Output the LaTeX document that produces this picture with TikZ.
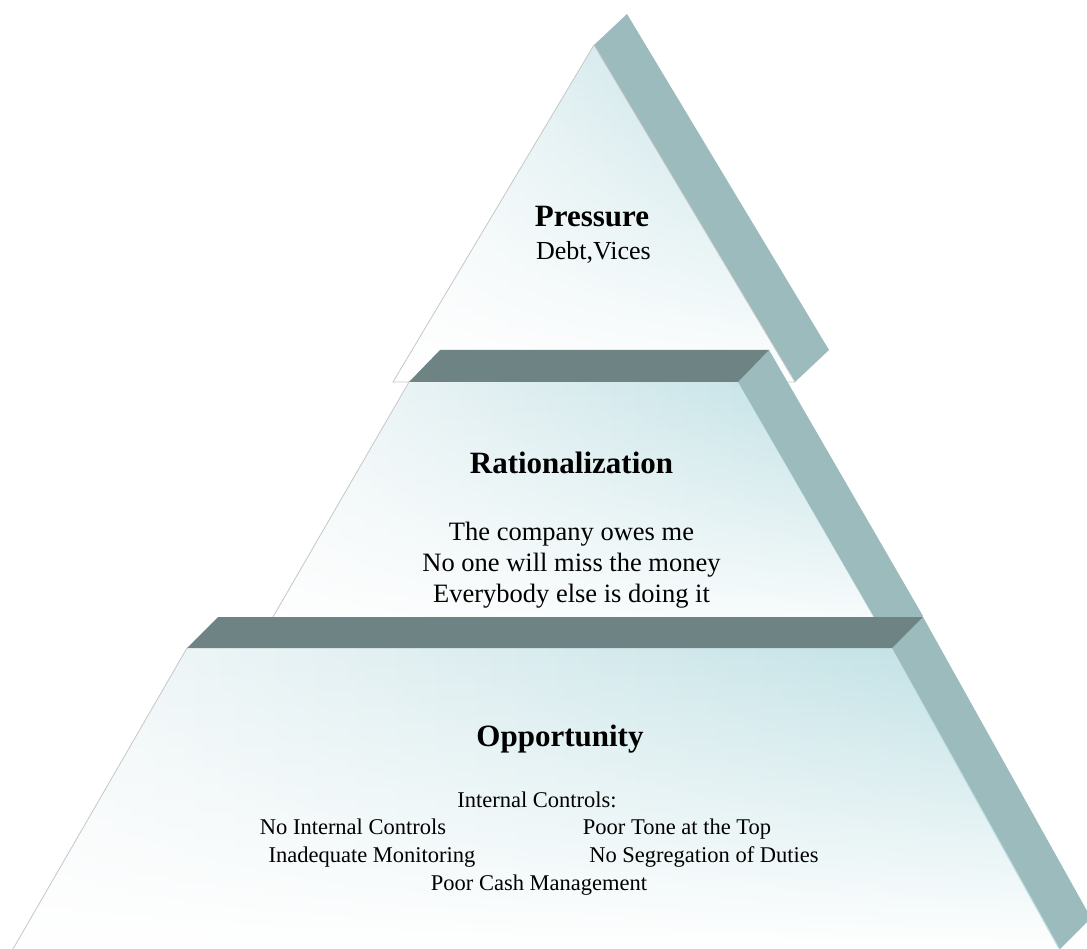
\documentclass[tikz,border=0pt]{standalone}
\usepackage{fontspec}
\setmainfont{Liberation Serif}
\usetikzlibrary{fadings,calc}
\definecolor{bandc}{HTML}{9CBBBD}
\definecolor{shelfc}{HTML}{6E8384}
\definecolor{cyanl}{HTML}{BCDFE3}
\definecolor{whitel}{HTML}{F6F9FA}
\definecolor{edgec}{HTML}{C6C6C6}
\tikzfading[name=fadedown, top color=transparent!100, middle color=transparent!75, bottom color=transparent!0]
\tikzset{
  frontface/.style={left color=whitel, right color=cyanl, draw=none},
  whiten/.style={fill=white, path fading=fadedown},
  outline/.style={draw=edgec, line width=0.8pt, line join=round},
  sideface/.style={fill=bandc},
  shelfface/.style={fill=shelfc},
  headtxt/.style={font=\bfseries\fontsize{31}{36}\selectfont, anchor=base, inner sep=0pt},
  bodytxt/.style={font=\fontsize{26.5}{31}\selectfont, anchor=base, inner sep=0pt},
  smalltxt/.style={font=\fontsize{26}{30}\selectfont, anchor=base, inner sep=0pt},
  opptxt/.style={font=\fontsize{22.5}{27}\selectfont, anchor=base, inner sep=0pt}
}
\begin{document}
\begin{tikzpicture}[x=1pt,y=-1pt]
\useasboundingbox (0,0) rectangle (1087,949);
\clip (0,0) rectangle (1087,949);
% ---- top level (Pressure)
\coordinate (pA) at (594,45);
\coordinate (pL) at (393,382);
\coordinate (pR) at (795,382);
\path[sideface] (pA) -- ++(33,-31) -- ($(pR)+(34,-32)$) -- (pR) -- cycle;
\path[frontface] (pA) -- (pL) -- (pR) -- cycle;
\path[whiten] (pA) -- (pL) -- (pR) -- cycle;
\path[outline] (pR) -- (pA) -- (pL) -- (pR);
% ---- middle level (Rationalization)
\coordinate (mTL) at (409,382);
\coordinate (mTR) at (738,382);
\coordinate (mBL) at (255,648);
\coordinate (mBR) at (892,648);
\path[frontface] (mTL) -- (mTR) -- (mBR) -- (mBL) -- cycle;
\path[whiten] (mTL) -- (mTR) -- (mBR) -- (mBL) -- cycle;
\path[outline] (mTL) -- (mBL);
\path[sideface] (mTR) -- ++(31,-32) -- ($(mBR)+(31,-32)$) -- (mBR) -- cycle;
\path[shelfface] (mTL) -- ++(31,-32) -- ($(mTR)+(31,-32)$) -- (mTR) -- cycle;
% ---- lower level (Opportunity)
\coordinate (lTL) at (187,648);
\coordinate (lTR) at (892,648);
\coordinate (lBL) at (13,949);
\coordinate (lBR) at (1060,949);
\path[frontface] (lTL) -- (lTR) -- (lBR) -- (lBL) -- cycle;
\path[whiten] (lTL) -- (lTR) -- (lBR) -- (lBL) -- cycle;
\path[outline] (lTL) -- (lBL);
\path[sideface] (lTR) -- ++(31,-31) -- ($(lBR)+(31,-31)$) -- (lBR) -- cycle;
\path[shelfface] (lTL) -- ++(31,-31) -- ($(lTR)+(31,-31)$) -- (lTR) -- cycle;
% ---- texts
\node[headtxt] (pressure) at (592,227) {Pressure};
\node[smalltxt] (debt) at (593.5,260) {Debt,Vices};
\node[headtxt] (ration) at (571.5,473) {Rationalization};
\node[bodytxt] (r1) at (571.5,540) {The company owes me};
\node[bodytxt] (r2) at (571.5,571) {No one will miss the money};
\node[bodytxt] (r3) at (571.5,602) {Everybody else is doing it};
\node[headtxt] (opp) at (560,746) {Opportunity};
\node[opptxt] (o1) at (537,807) {Internal Controls:};
\node[opptxt] (o2) at (353,834) {No Internal Controls};
\node[opptxt] (o3) at (677,834) {Poor Tone at the Top};
\node[opptxt] (o4) at (372,862) {Inadequate Monitoring};
\node[opptxt] (o5) at (704,862) {No Segregation of Duties};
\node[opptxt] (o6) at (539,890) {Poor Cash Management};
\end{tikzpicture}
\end{document}
